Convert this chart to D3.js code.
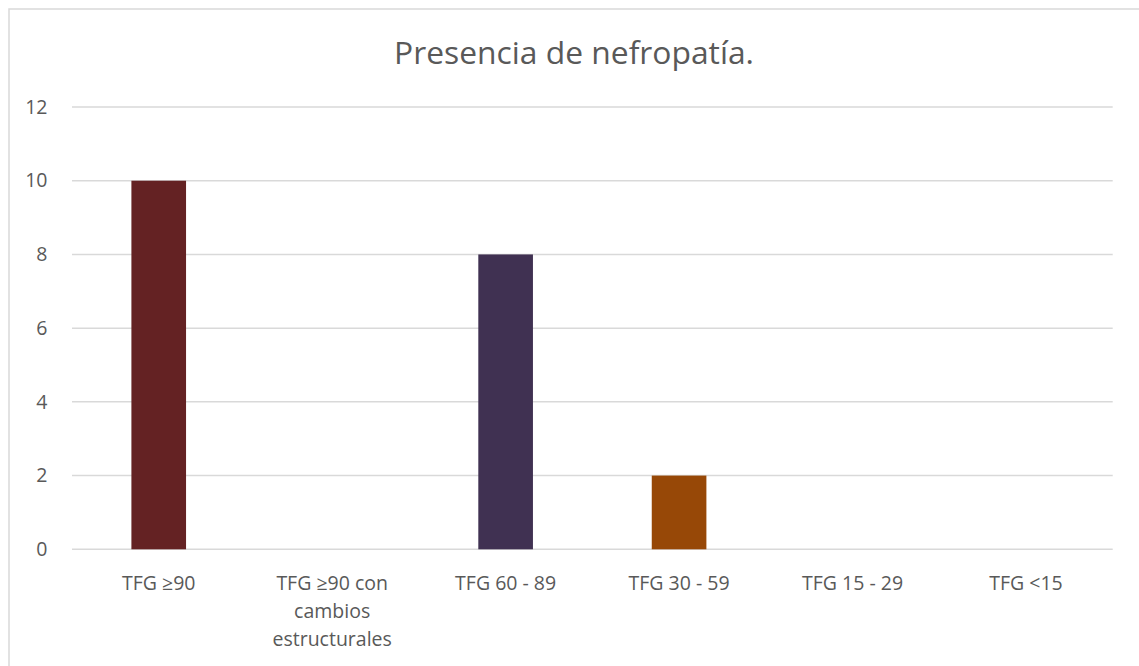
<!DOCTYPE html>
<html><head><meta charset="utf-8">
<script src="https://cdn.jsdelivr.net/npm/d3@7"></script>
<style>body{margin:0;background:#fff;} svg{display:block;}</style>
</head><body>
<svg id="c" width="1139" height="666"></svg>
<script>
const categories = [["TFG ≥90"], ["TFG ≥90 con", "cambios", "estructurales"], ["TFG 60 - 89"], ["TFG 30 - 59"], ["TFG 15 - 29"], ["TFG <15"]];
const values = [10, 0, 8, 2, 0, 0];
const barColors = ["#642223", "#642223", "#403152", "#974807", "#974807", "#974807"];
const yTicks = [0, 2, 4, 6, 8, 10, 12];
const title = "Presencia de nefropatía.";

const svg = d3.select("#c");
const font = "'Open Sans', 'Noto Sans', sans-serif";
const txt = "#595959";

// chart frame
svg.append("rect").attr("x", 9).attr("y", 9).attr("width", 1140).attr("height", 670)
  .attr("fill", "#fff").attr("stroke", "#d9d9d9").attr("stroke-width", 1.5);

const pLeft = 72, pRight = 1112.7, pTop = 107, pBottom = 549.3;
const x = d3.scaleBand().domain(d3.range(categories.length)).range([pLeft, pRight]).paddingInner(0.685).paddingOuter(0.3425);
const y = d3.scaleLinear().domain([0, 12]).range([pBottom, pTop]);

// gridlines
svg.append("g").selectAll("line").data(yTicks).join("line")
  .attr("x1", pLeft).attr("x2", pRight)
  .attr("y1", d => y(d)).attr("y2", d => y(d))
  .attr("stroke", "#d9d9d9").attr("stroke-width", 1.5);

// y axis labels
const yAxis = svg.append("g").attr("transform", `translate(${pLeft},0)`)
  .call(d3.axisLeft(y).tickValues(yTicks).tickSize(0).tickPadding(24.5));
yAxis.select(".domain").remove();
yAxis.selectAll("text").attr("font-family", font).attr("font-size", 19.5).attr("fill", txt);

// bars
svg.append("g").selectAll("rect").data(values).join("rect")
  .attr("x", (d, i) => x(i)).attr("width", x.bandwidth())
  .attr("y", d => y(d)).attr("height", d => y(0) - y(d))
  .attr("fill", (d, i) => barColors[i]);

// x axis labels
const xAxis = svg.append("g").attr("transform", `translate(0,${pBottom})`)
  .call(d3.axisBottom(x).tickSize(0).tickFormat(""));
xAxis.select(".domain").remove();
const xl = svg.append("g").selectAll("text").data(categories).join("text")
  .attr("x", (d, i) => x(i) + x.bandwidth() / 2)
  .attr("y", pBottom + 40.5)
  .attr("text-anchor", "middle")
  .attr("font-family", font).attr("font-size", 19.5).attr("fill", txt);
xl.selectAll("tspan").data(d => d).join("tspan")
  .attr("x", function() { return d3.select(this.parentNode).attr("x"); })
  .attr("dy", (d, i) => i === 0 ? 0 : 28)
  .text(d => d);

// title
svg.append("text").attr("x", 574).attr("y", 64).attr("text-anchor", "middle")
  .attr("font-family", font).attr("font-size", 31.8).attr("fill", txt).text(title);
</script>
</body></html>
